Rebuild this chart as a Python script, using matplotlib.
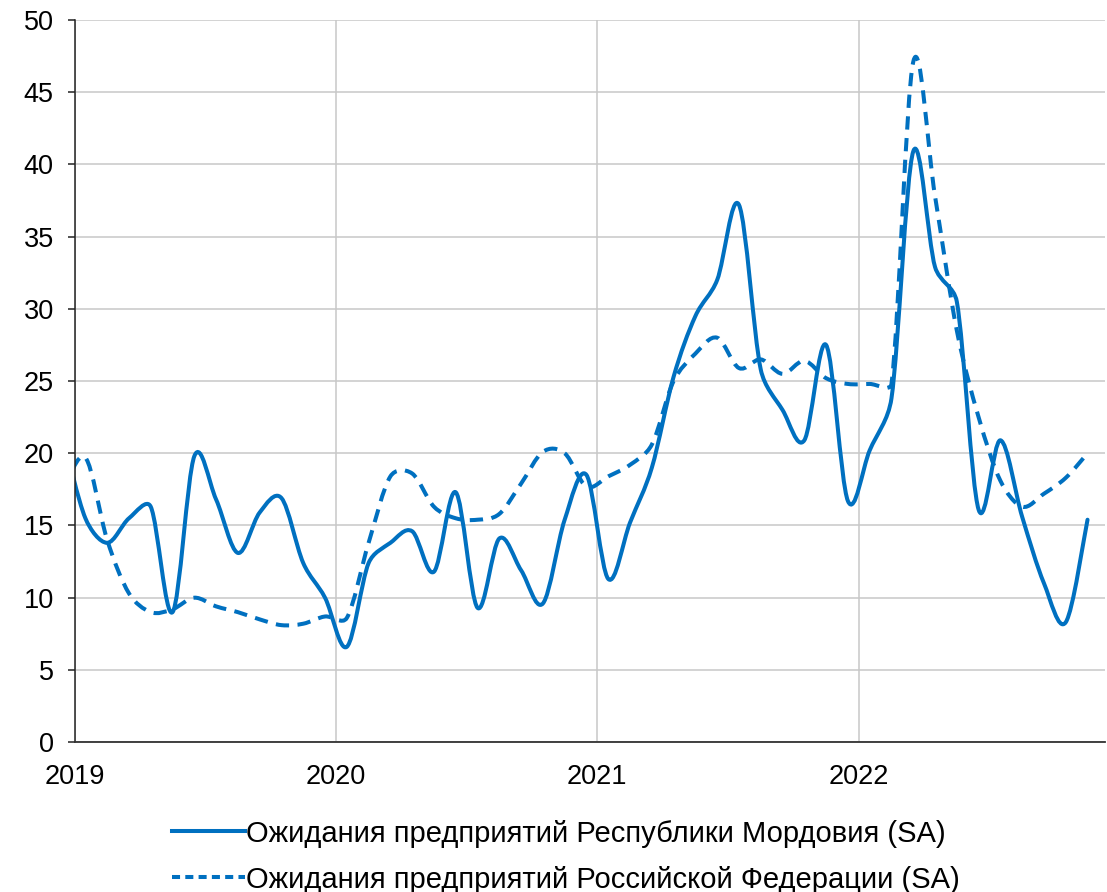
import matplotlib
matplotlib.use("Agg")
import matplotlib.pyplot as plt
import numpy as np
from matplotlib.path import Path
from matplotlib.patches import PathPatch
from matplotlib.lines import Line2D

plt.rcParams["font.family"] = ["Liberation Sans", "DejaVu Sans"]

# monthly data, Dec 2018 .. Nov 2022 (first point sits left of the axis start)
start_year, start_month = 2018, 12
mordovia = [21.0,
            15.5, 13.8, 15.5, 16.3, 9.0, 19.8, 16.8, 13.1, 15.9, 16.9, 12.4, 10.0,
            6.6, 12.4, 13.8, 14.6, 11.8, 17.3, 9.3, 14.1, 11.9, 9.6, 15.4, 18.5,
            11.3, 15.2, 19.0, 25.3, 29.5, 32.0, 37.2, 25.8, 23.0, 20.9, 27.5, 16.7,
            20.2, 23.8, 40.9, 32.9, 30.5, 16.1, 20.9, 15.6, 11.0, 8.3, 15.4]
russia = [17.5,
          19.7, 14.0, 10.3, 9.0, 9.2, 10.0, 9.4, 9.0, 8.5, 8.1, 8.2, 8.7,
          8.6, 13.8, 18.4, 18.6, 16.3, 15.5, 15.4, 15.8, 17.9, 20.1, 20.0, 17.7,
          18.4, 19.2, 20.6, 25.0, 26.9, 28.0, 25.9, 26.5, 25.5, 26.4, 25.2, 24.8,
          24.8, 24.8, 47.1, 37.8, 28.5, 22.5, 18.1, 16.3, 17.2, 18.3, 20.0]
series_labels = ["Ожидания предприятий Республики Мордовия (SA)",
                 "Ожидания предприятий Российской Федерации (SA)"]
year_ticks = [2019, 2020, 2021, 2022]

# x position: mid-month in fractional years
n = len(mordovia)
months = np.arange(n) + (start_month - 1)
x = start_year + (months + 0.5) / 12.0

color = "#0070C0"
lw = 2.9


def smooth_path(ax, xs, ys, clamp=0.4):
    # Catmull-Rom Bezier handles (in pixels), shortened next to short segments
    pts = ax.transData.transform(np.column_stack([xs, ys]))
    m = len(pts)
    h = [(pts[min(i + 1, m - 1)] - pts[max(i - 1, 0)]) / 6.0 for i in range(m)]

    def limit(v, L):
        n_ = np.hypot(*v)
        return v if n_ <= L or n_ == 0 else v * (L / n_)

    verts = [pts[0]]
    codes = [Path.MOVETO]
    for i in range(m - 1):
        p1, p2 = pts[i], pts[i + 1]
        L = np.hypot(*(p2 - p1)) * clamp
        verts += [p1 + limit(h[i], L), p2 - limit(h[i + 1], L), p2]
        codes += [Path.CURVE4] * 3
    verts = ax.transData.inverted().transform(np.array(verts))
    return Path(verts, codes)


fig = plt.figure(figsize=(11.07, 8.92), dpi=100)
ax = fig.add_axes([0.0673, 0.168, 0.9307, 0.8096])
ax.set_xlim(2019, 2022.941)
ax.set_ylim(0, 50)

ax.add_patch(PathPatch(smooth_path(ax, x, mordovia), fill=False,
                       edgecolor=color, linewidth=lw, capstyle="round",
                       joinstyle="round"))
ax.add_patch(PathPatch(smooth_path(ax, x, russia), fill=False,
                       edgecolor=color, linewidth=lw, linestyle=(0, (3.3, 2.1)),
                       capstyle="butt", joinstyle="round"))

ax.set_yticks(np.arange(0, 51, 5))
ax.set_xticks(year_ticks)
ax.set_xticklabels([str(y) for y in year_ticks])

ax.grid(True, color="#c8c8c8", linewidth=1.1)
ax.set_axisbelow(True)
for s in ["top", "right"]:
    ax.spines[s].set_visible(False)
ax.spines["left"].set_color("#222222")
ax.spines["bottom"].set_color("#333333")
ax.spines["left"].set_linewidth(1.1)
ax.spines["bottom"].set_linewidth(1.3)

ax.tick_params(axis="y", length=5, width=1.1, color="#222222", pad=10,
               labelsize=19.5)
ax.tick_params(axis="x", length=0, pad=16, labelsize=19.5)

handles = [Line2D([], [], color=color, linewidth=lw),
           Line2D([], [], color=color, linewidth=lw, linestyle=(0, (2.0, 1.3)))]
fig.legend(handles, series_labels, loc="upper center",
           bbox_to_anchor=(0.511, 0.0975), frameon=False, fontsize=21,
           handlelength=2.5, handletextpad=0.05, labelspacing=0.62,
           borderpad=0)

fig.savefig("out.png", dpi=100)
